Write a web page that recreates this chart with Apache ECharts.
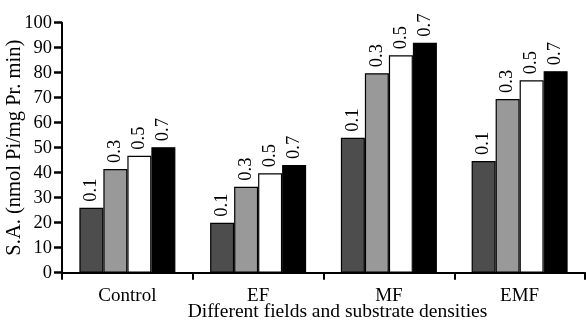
<!DOCTYPE html>
<html><head><meta charset="utf-8">
<script src="https://cdn.jsdelivr.net/npm/echarts@6/dist/echarts.min.js"></script>
<style>html,body{margin:0;padding:0;background:#fff}#c{width:586px;height:327px}</style>
</head><body><div id="c"></div>
<script>
const categories = ['Control', 'EF', 'MF', 'EMF'];
const densities = ['0.1', '0.3', '0.5', '0.7'];
const d01 = [26, 20, 54, 44.7];
const d03 = [41.5, 34.4, 79.8, 69.5];
const d05 = [46.8, 39.8, 87, 77];
const d07 = [50.2, 43.1, 92, 80.6];
const yTicks = [0, 10, 20, 30, 40, 50, 60, 70, 80, 90, 100];
const colors = ['#4d4d4d', '#999999', '#ffffff', '#000000'];
const seriesData = [d01, d03, d05, d07];
const font = '"Liberation Serif", "Times New Roman", serif';

const chart = echarts.init(document.getElementById('c'));
chart.setOption({
  animation: false,
  grid: { left: 62, right: 1, top: 22.7, bottom: 54.3, containLabel: false, outerBoundsMode: 'none' },
  xAxis: {
    type: 'category', data: categories,
    name: 'Different fields and substrate densities', nameLocation: 'middle', nameGap: 29,
    nameMoveOverlap: false,
    nameTextStyle: { fontFamily: font, fontSize: 19.5, color: '#000', padding: [0, 0, 0, 28] },
    axisLine: { lineStyle: { color: '#000', width: 2 } },
    axisTick: { show: true, alignWithLabel: false, length: 7, lineStyle: { color: '#000', width: 2 } },
    axisLabel: { fontFamily: font, fontSize: 19, color: '#000', margin: 14 }
  },
  yAxis: {
    type: 'value', min: 0, max: 100, interval: 10,
    name: 'S.A. (nmol Pi/mg Pr. min)', nameLocation: 'middle', nameGap: 37,
    nameMoveOverlap: false,
    nameTextStyle: { fontFamily: font, fontSize: 20.5, color: '#000' },
    splitLine: { show: false },
    axisLine: { show: true, lineStyle: { color: '#000', width: 2 } },
    axisTick: { show: true, length: 8, lineStyle: { color: '#000', width: 2.5 } },
    axisLabel: { fontFamily: font, fontSize: 18.5, color: '#000', margin: 10,
      formatter: v => yTicks.includes(v) ? String(v) : '' }
  },
  series: seriesData.map((d, i) => ({
    type: 'bar', name: densities[i], data: d,
    barWidth: 24, barGap: '0%',
    itemStyle: { color: colors[i], borderColor: '#000', borderWidth: 1.2 },
    label: { show: true, position: 'top', rotate: 90, align: 'left', verticalAlign: 'middle',
      distance: 6, formatter: densities[i], fontFamily: font, fontSize: 18.5, color: '#000' }
  }))
});
</script></body></html>
